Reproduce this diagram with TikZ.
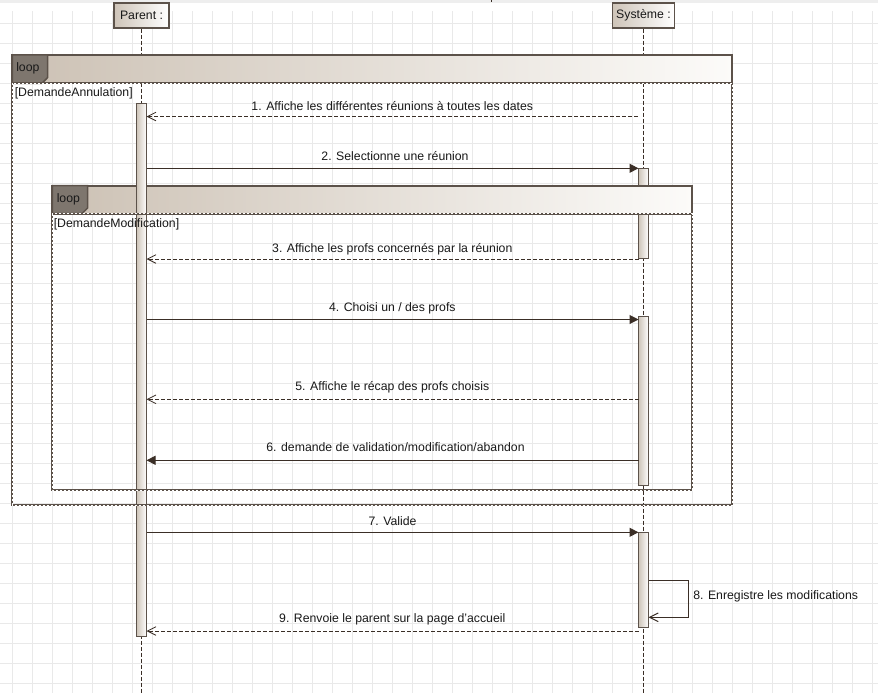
\documentclass[tikz,border=0pt]{standalone}
\usepackage{fontspec}
\setmainfont{Liberation Sans}
\usetikzlibrary{arrows.meta}

\definecolor{umlink}{RGB}{58,46,38}
\definecolor{frameink}{RGB}{92,82,74}
\definecolor{tagfill}{RGB}{126,118,110}
\definecolor{beige}{RGB}{206,196,184}
\definecolor{bandleft}{RGB}{204,193,180}
\definecolor{bandmid}{RGB}{228,221,213}
\definecolor{bandright}{RGB}{252,251,249}
\definecolor{gridgray}{RGB}{233,233,233}
\definecolor{topstrip}{RGB}{238,238,238}
\definecolor{textink}{RGB}{25,25,25}

\tikzset{
  gridline/.style={draw=gridgray, line width=0.75pt},
  head/.style={draw=frameink, line width=0.9pt, left color=beige, right color=white, minimum height=18.75pt, inner sep=1pt, text=textink},
  lifeline/.style={draw=umlink, line width=0.6pt, dash pattern=on 3pt off 1.5pt},
  bar/.style={draw=frameink, line width=0.75pt, left color=beige, right color=white, minimum width=7.5pt, inner sep=0pt},
  band/.style={left color=bandleft, middle color=bandmid, right color=bandright},
  frameline/.style={draw=frameink, line width=1.4pt},
  dashframe/.style={draw=frameink, line width=1.4pt, postaction={draw=white, line width=0.4pt, dash pattern=on 1.5pt off 1.5pt}},
  looptag/.style={draw=frameink, line width=1.1pt, fill=tagfill},
  tagtext/.style={anchor=base west, inner sep=0pt, text=textink},
  guard/.style={anchor=base west, inner sep=0pt, text=textink},
  msg/.style={anchor=base, inner sep=0pt, text=textink},
  call/.style={draw=umlink, line width=0.75pt, -{Triangle[length=6.75pt,width=6.75pt]}},
  reply/.style={draw=umlink, line width=0.6pt, dash pattern=on 3pt off 1.5pt, -{Straight Barb[length=6.5pt,width=6.5pt]}},
  selfcall/.style={draw=umlink, line width=0.75pt, -{Straight Barb[length=6.5pt,width=6.5pt]}}
}

\begin{document}
\begin{tikzpicture}[x=0.75pt,y=0.75pt,yscale=-1,xscale=1, font=\fontsize{9.2}{11}\selectfont]
\useasboundingbox (0,0) rectangle (878,693);

%Background and grid
\fill[white] (0,0) rectangle (878,693);
\fill[topstrip] (0,0) rectangle (878,3.3);
\draw[umlink, line width=0.75pt] (491.7,0) -- (491.7,1.5);
\foreach \gx in {12.3,32.3,...,872.3} \draw[gridline] (\gx,11) -- (\gx,693);
\foreach \gy in {23.3,43.3,...,683.3} \draw[gridline] (0,\gy) -- (878,\gy);

%Lifeline heads
\node[head, minimum width=41.25pt] (parent) at (141.5,15.5) {Parent :};
\node[head, minimum width=46.8pt] (systeme) at (643.5,15.5) {Système :};

%Lifelines
\coordinate (parentend) at (141.5,693);
\coordinate (systemeend) at (643.5,693);
\draw[lifeline] (parent.south) -- (parentend);
\draw[lifeline] (systeme.south) -- (systemeend);

%Activation bar under the inner loop header
\node[bar, minimum height=67.5pt] (sbarA) at (643.5,213.3) {};

%Outer loop header
\fill[band] (12.3,55) rectangle (732.3,83.3);
\draw[frameline] (12.3,83.3) -- (12.3,55) -- (732.3,55) -- (732.3,83.3);
\draw[looptag] (12.3,55) -- (47.7,55) -- (47.7,77.5) -- (42,83.3) -- (12.3,83.3) -- cycle;
\node[tagtext] (loopA) at (16,71) {loop};

%Inner loop header
\fill[band] (52.3,185.7) rectangle (692.3,213.7);
\draw[frameline] (52.3,213.7) -- (52.3,185.7) -- (692.3,185.7) -- (692.3,213.7);
\draw[looptag] (52.3,185.7) -- (87.7,185.7) -- (87.7,208) -- (82,213.7) -- (52.3,213.7) -- cycle;
\node[tagtext] (loopB) at (56.5,202) {loop};

%Activation bars
\node[bar, minimum height=399.75pt] (pbar) at (141.5,370.2) {};
\node[bar, minimum height=127pt] (sbarB) at (643.5,400.7) {};
\node[bar, minimum height=71.25pt] (sbarC) at (643.5,579.8) {};

%Loop bodies
\draw[dashframe] (12.3,83.3) rectangle (732.3,505);
\draw[dashframe] (52.3,213.7) rectangle (692.3,490);
\node[guard] (guardA) at (14.5,96.3) {[DemandeAnnulation]};
\node[guard] (guardB) at (53.5,227) {[DemandeModification]};

%Message ends
\coordinate (m1a) at (637.7,116.5);  \coordinate (m1b) at (146.5,116.5);
\coordinate (m2a) at (146.5,168.3);  \coordinate (m2b) at (638.5,168.3);
\coordinate (m3a) at (638.5,259);    \coordinate (m3b) at (146.5,259);
\coordinate (m4a) at (146.5,319.5);  \coordinate (m4b) at (638.5,319.5);
\coordinate (m5a) at (638.5,399.3);  \coordinate (m5b) at (146.5,399.3);
\coordinate (m6a) at (638.5,460.3);  \coordinate (m6b) at (146.5,460.3);
\coordinate (m7a) at (146.5,532.3);  \coordinate (m7b) at (638.5,532.3);
\coordinate (m8a) at (648.5,580.3);  \coordinate (m8b) at (648.5,617.3);
\coordinate (m9a) at (638.5,631);    \coordinate (m9b) at (146.5,631);

%Messages
\draw[reply] (m1a) -- (m1b);
\draw[call] (m2a) -- (m2b);
\draw[reply] (m3a) -- (m3b);
\draw[call] (m4a) -- (m4b);
\draw[reply] (m5a) -- (m5b);
\draw[call] (m6a) -- (m6b);
\draw[call] (m7a) -- (m7b);
\draw[selfcall] (m8a) -- (688.7,580.3) -- (688.7,617.3) -- (m8b);
\draw[reply] (m9a) -- (m9b);

% Text Nodes
\node[msg] (t1) at (392.3,110) {1. Affiche les différentes réunions à toutes les dates};
\node[msg] (t2) at (395,160.7) {2. Selectionne une réunion};
\node[msg] (t3) at (392.3,252.7) {3. Affiche les profs concernés par la réunion};
\node[msg] (t4) at (392.3,311.7) {4. Choisi un / des profs};
\node[msg] (t5) at (392.3,390) {5. Affiche le récap des profs choisis};
\node[msg] (t6) at (395.5,451.3) {6. demande de validation/modification/abandon};
\node[msg] (t7) at (392.5,525) {7. Valide};
\node[guard] (t8) at (693,599.3) {8. Enregistre les modifications};
\node[msg] (t9) at (392.3,622.3) {9. Renvoie le parent sur la page d'accueil};

\end{tikzpicture}
\end{document}
